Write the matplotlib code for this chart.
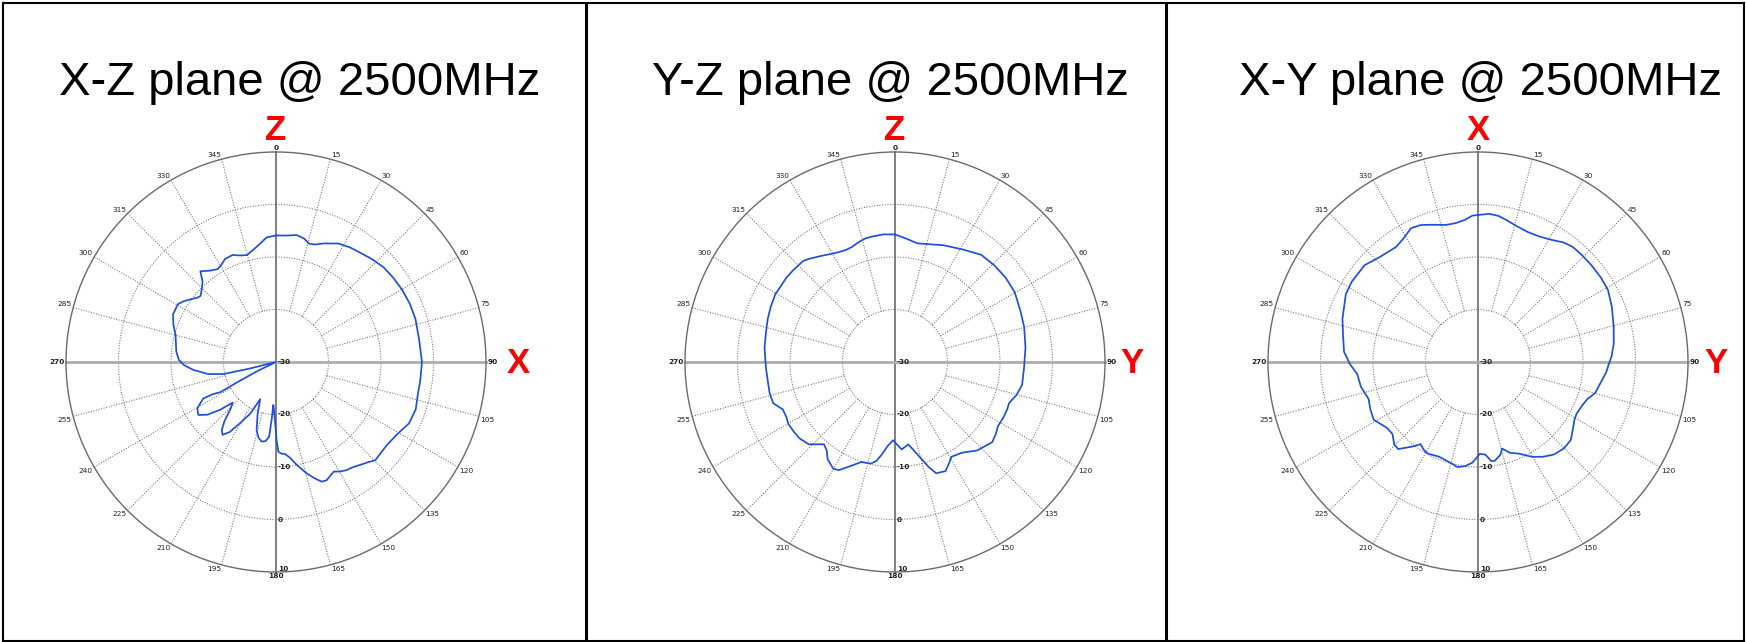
import numpy as np
import matplotlib
matplotlib.use("Agg")
import matplotlib.pyplot as plt
from matplotlib.lines import Line2D
from matplotlib.transforms import offset_copy

W, H, DPI = 1746, 642, 100

# ---------------- data ----------------
titles = ["X-Z plane @ 2500MHz", "Y-Z plane @ 2500MHz", "X-Y plane @ 2500MHz"]
top_axis_labels = ["Z", "Z", "X"]
right_axis_labels = ["X", "Y", "Y"]
angle_ticks = list(range(0, 360, 15))
radial_ticks = [-30, -20, -10, 0, 10]

xz_theta = [0, 4.3, 9.3, 12.9, 15.5, 18.5, 21.7, 27.7, 33, 37.9, 43, 48.6, 54.2,
            60.3, 66.7, 72.8, 81, 90, 97.3, 102.3, 108.7, 114.8, 118.5, 121.5,
            126.5, 130, 134.7, 137.5, 140.8, 144, 146.8, 149.5, 152.2, 154.5,
            156.8, 159.1, 161.5, 164.6, 168.6, 171.5, 174.4, 176.5, 178.5, 179.5,
            180.5, 182.5, 183.6, 184.3, 185.3, 187.5, 190.2, 193, 195.9, 199.5,
            203, 206.5, 210.4, 213.5, 216.2, 218.5, 221, 224, 226.8, 229.5, 232.5,
            235.7, 239.5, 243.4, 243, 241.5, 242.5, 244, 248, 256, 257.1, 259.9,
            264.5, 268, 271.2, 276, 280.6, 285, 290, 294.7, 300.5, 303.5, 306.6,
            309, 311.2, 314, 317.5, 320.2, 324, 327.8, 330.5, 333.7, 337.9, 341.5,
            344.8, 348.5, 351.8, 355.7, 360]
xz_db = [-5.9, -5.85, -5.5, -5.9, -6.6, -6.4, -5.7, -4.5, -4.0, -3.7, -3.2, -2.7, -2.5,
         -2.3, -2.2, -2.2, -2.4, -2.2, -2.3, -2.3, -1.9, -2.1, -2.8, -3.2,
         -3.6, -3.6, -3.4, -4.1, -4.7, -5.2, -5.4, -5.8, -6.4, -6.0,
         -5.5, -5.6, -6.6, -8.0, -10.0, -11.5, -12.4, -12.5, -12.9, -15.0,
         -17.7, -21.0, -21.8, -19.0, -15.7, -14.8, -14.6, -15.2, -16.5, -19.5,
         -22.3, -19.0, -16.5, -14.0, -12.8, -13.4, -15.0, -17.5, -18.7, -16.0, -13.5,
         -12.1, -12.6, -14.5, -16.5, -18.0, -22.0, -26.0, -30.0, -25.0, -19.7, -16.9,
         -14.2, -12.5, -11.5, -10.9, -10.6, -10.2, -9.2, -8.4, -8.3, -9.0, -9.9,
         -10.6, -10.9, -10.3, -9.3, -7.5, -8.5, -9.1, -8.8, -8.1, -8.0, -8.6,
         -8.9, -8.2, -7.4, -6.2, -5.9]

yz_theta = [0, 5.2, 10.7, 22.7, 30.9, 38.8, 45.7, 52.6, 59.7, 67.7, 74.8, 83.7,
            92.7, 100.1, 105.1, 109.8, 112.9, 117.1, 121.8, 125.5, 129.5, 137.1,
            143.4, 149.3, 151.7, 155.1, 159.7, 162.2, 164.8, 168, 170.9, 175.6,
            178.7, 181.4, 185.1, 188.1, 190.7, 193.4, 198.6, 203.3, 207.4, 210,
            214.8, 217.6, 220.8, 226.3, 231.4, 235.3, 239.9, 242.9, 247.1, 251.3,
            256.2, 261.7, 267.3, 270.9, 276.3, 282.6, 288.8, 294.1, 299.6, 303.7,
            307.9, 312.5, 317.7, 320.1, 324.7, 329.6, 332.9, 336.6, 339.5, 342.6,
            346.4, 349.9, 355, 360]
yz_db = [-5.7, -6.4, -7.0, -5.9, -5.0, -3.8, -3.6, -3.5, -3.6, -4.2, -4.5, -5.0,
         -5.4, -5.4, -6.0, -6.9, -6.8, -6.8, -6.9, -6.4, -6.0, -7.0,
         -8.5, -9.0, -8.2, -7.1, -7.4, -9.0, -10.9, -12.8, -14.1, -13.3,
         -14.3, -15.1, -13.9, -12.2, -10.8, -10.1, -9.9, -8.4, -6.8, -6.5,
         -7.5, -8.7, -9.3, -7.3, -6.7, -6.6, -6.5, -6.8, -6.8, -5.5,
         -5.4, -5.5, -5.4, -5.3, -5.0, -4.8, -4.4, -4.1, -3.8, -3.9,
         -3.8, -3.9, -4.0, -4.4, -5.3, -6.1, -6.5, -6.7, -6.6, -6.2,
         -5.8, -5.7, -5.6, -5.7]

xy_theta = [0, 4.3, 8, 11.1, 16, 21.1, 26, 30.7, 35.6, 39.4, 44.2, 49.5, 55.5, 61,
            67.4, 75.5, 82.2, 87.3, 91.8, 94.6, 99.5, 104.8, 108.7, 112.6, 117.6,
            120.8, 125.6, 130.1, 135.3, 140.6, 145.5, 150.3, 156, 160.8, 164.4,
            166.5, 170.4, 172.5, 175.4, 178.9, 182.2, 183.2, 187.1, 191, 195.4,
            202.4, 208.7, 211.3, 215, 217.6, 222.5, 225.4, 229.9, 234.1, 241,
            246.3, 251.3, 258.1, 264.2, 269.1, 274.4, 281.2, 287.7, 297.2, 302.4,
            310.5, 316.8, 324.6, 329, 333.4, 337.2, 341.3, 347, 350.9, 354.8,
            357.8, 360]
xy_db = [-2.0, -1.7, -1.9, -2.4, -3.1, -3.5, -3.4, -2.9, -2.0, -1.6, -1.6, -1.6, -1.6, -1.7,
         -2.4, -3.3, -3.9, -4.5, -5.2, -5.5, -6.3, -6.9, -8.0, -8.5, -8.8,
         -8.6, -7.8, -6.9, -6.8, -7.2, -8.1, -9.2, -10.9, -11.7, -12.9,
         -11.8, -10.9, -11.0, -12.3, -12.5, -11.2, -10.8, -10.0, -9.6, -10.1,
         -10.5, -10.1, -10.3, -10.9, -9.7, -7.5, -7.6, -8.7, -8.6, -7.3,
         -7.6, -8.0, -7.2, -6.9, -5.6, -4.4, -3.8, -2.9, -1.7, -1.5,
         -1.6, -2.6, -3.1, -2.5, -1.5, -1.7, -2.4, -3.2, -3.2, -2.8,
         -2.1, -2.0]

series_theta = [xz_theta, yz_theta, xy_theta]
series_db = [xz_db, yz_db, xy_db]

# ---------------- layout ----------------
centers_px = [(276, 362), (895, 362), (1478, 362)]
R_px = 210
title_x_px = [300, 891, 1481]
title_base_px = 95
top_letter_base_px = 140.5
right_letter_x_px = [518.5, 1131.6, 1716]
right_letter_base_px = 373

TITLE_FONT = ["Liberation Sans", "DejaVu Sans"]
dot_style = (0, (1, 1.5))
GRID_COLOR = "#6f6f6f"

fig = plt.figure(figsize=(W / DPI, H / DPI), dpi=DPI)
fig.patch.set_facecolor("white")


def fx(px):
    return px / W


def fy(py):
    return 1 - py / H


for i in range(3):
    cx, cy = centers_px[i]
    ax = fig.add_axes([fx(cx - R_px), fy(cy + R_px), 2 * R_px / W, 2 * R_px / H],
                      projection="polar")
    ax.set_theta_zero_location("N")
    ax.set_theta_direction(-1)
    ax.set_ylim(radial_ticks[0], radial_ticks[-1])
    ax.set_xticks([])
    ax.set_yticks([])
    ax.grid(False)
    ax.spines["polar"].set_edgecolor("#6a6a6a")
    ax.spines["polar"].set_linewidth(1.0)
    ax.patch.set_alpha(0)

    th = np.linspace(0, 2 * np.pi, 721)
    for r in radial_ticks[1:-1]:
        ax.plot(th, np.full_like(th, r), color=GRID_COLOR, lw=0.75, ls=dot_style,
                clip_on=False, zorder=1)
    for a in angle_ticks:
        if a % 90 != 0:
            ax.plot([np.deg2rad(a)] * 2, [radial_ticks[1], radial_ticks[-1]],
                    color=GRID_COLOR, lw=0.75, ls=dot_style, clip_on=False, zorder=1)
    # main axes lines
    for a in (0, 180):
        ax.plot([np.deg2rad(a)] * 2, [radial_ticks[0], radial_ticks[-1]],
                color="#6a6a6a", lw=1.2, clip_on=False, zorder=2)
    for a in (90, 270):
        ax.plot([np.deg2rad(a)] * 2, [radial_ticks[0], radial_ticks[-1]],
                color="#adadad", lw=2.0, clip_on=False, zorder=2)

    # pattern
    ax.plot(np.deg2rad(series_theta[i]), series_db[i], color="#1f4fdc", lw=1.25,
            zorder=5, clip_on=False, solid_joinstyle="round")

    # angle labels
    for a in angle_ticks:
        if a in (0, 180):
            ha = "center"
        elif a < 180:
            ha = "left"
        else:
            ha = "right"
        if a in (90, 270):
            va = "center"
        elif a < 90 or a > 270:
            va = "bottom"
        else:
            va = "top"
        ax.text(np.deg2rad(a), radial_ticks[-1] + 0.25, str(a), ha=ha, va=va,
                fontsize=5.3, color="#222222",
                fontweight="bold" if a % 90 == 0 else "normal",
                family="DejaVu Sans", zorder=6)

    # radial labels
    tr = offset_copy(ax.transData, fig=fig, x=2, y=0, units="dots")
    for r in radial_ticks:
        ax.text(np.pi, r, str(r), transform=tr, ha="left",
                va="center" if r != radial_ticks[-1] else "bottom",
                fontsize=5.3, fontweight="bold", color="#222222",
                family="DejaVu Sans", zorder=6)

    # titles and axis letters
    fig.text(fx(title_x_px[i]), fy(title_base_px), titles[i], ha="center",
             va="baseline", fontsize=34, family=TITLE_FONT, color="black")
    fig.text(fx(cx), fy(top_letter_base_px), top_axis_labels[i], ha="center",
             va="baseline", fontsize=25, fontweight="bold", color="#ff0000",
             family=TITLE_FONT)
    fig.text(fx(right_letter_x_px[i]), fy(right_letter_base_px),
             right_axis_labels[i], ha="center", va="baseline", fontsize=25,
             fontweight="bold", color="#ff0000", family=TITLE_FONT)

# frame lines
frame = [
    ((3, 2.5), (1744, 2.5), 1.5),
    ((3, 640.5), (1744, 640.5), 1.5),
    ((3, 2.5), (3, 640.5), 1.5),
    ((1744, 2.5), (1744, 640.5), 1.5),
    ((585.7, 2.5), (585.7, 640.5), 2.2),
    ((1166.3, 2.5), (1166.3, 640.5), 2.2),
]
for (x0, y0), (x1, y1), lw in frame:
    fig.add_artist(Line2D([fx(x0), fx(x1)], [fy(y0), fy(y1)],
                          transform=fig.transFigure, color="black", lw=lw))

fig.savefig("out.png", dpi=DPI, facecolor="white")
